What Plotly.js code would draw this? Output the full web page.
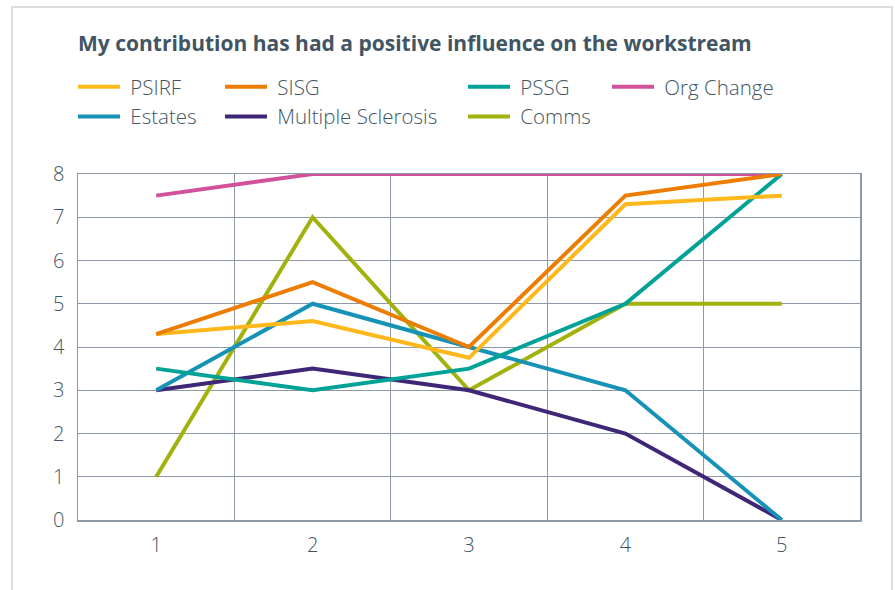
<!DOCTYPE html>
<html>
<head>
<meta charset="utf-8">
<script src="https://cdn.plot.ly/plotly-3.0.1.min.js"></script>
<style>html,body{margin:0;padding:0;background:#fff;}#chart{width:895px;height:590px;}</style>
</head>
<body>
<div id="chart"></div>
<script>
var categories = ['1', '2', '3', '4', '5'];
var psirf = [4.3, 4.6, 3.75, 7.3, 7.5];
var sisg = [4.3, 5.5, 4.0, 7.5, 8];
var pssg = [3.5, 3.0, 3.5, 5, 8];
var orgChange = [7.5, 8, 8, 8, 8];
var estates = [3, 5, 4, 3, 0];
var multipleSclerosis = [3, 3.5, 3, 2, 0];
var comms = [1, 7, 3, 5, 5];
var yTicks = [0, 1, 2, 3, 4, 5, 6, 7, 8];

var txt = '#425563';
var grid = '#8d9aa6';
var lw = 4;

function tr(name, y, color, legend) {
  return {type: 'scatter', mode: 'lines', name: '&nbsp;' + name, x: categories, y: y,
    line: {color: color, width: lw}, legend: legend};
}

var data = [
  tr('Org Change', orgChange, '#d1519a', 'legend4'),
  tr('Comms', comms, '#a2b20c', 'legend3'),
  tr('Multiple Sclerosis', multipleSclerosis, '#3f2677', 'legend2'),
  tr('Estates', estates, '#1592b6', 'legend'),
  tr('PSSG', pssg, '#00a197', 'legend3'),
  tr('PSIRF', psirf, '#ffb81c', 'legend'),
  tr('SISG', sisg, '#ed7d00', 'legend2')
];

function leg(px) {
  return {xref: 'container', yref: 'container', x: px / 895, y: 1 - 67 / 590,
    xanchor: 'left', yanchor: 'top', orientation: 'v', traceorder: 'reversed',
    font: {family: 'Open Sans', size: 20.5, color: txt, weight: 300},
    bgcolor: 'rgba(0,0,0,0)', itemwidth: 42, tracegroupgap: 0};
}

var layout = {
  width: 895, height: 590,
  margin: {l: 78, r: 35, t: 174, b: 70, autoexpand: false},
  paper_bgcolor: '#fff', plot_bgcolor: '#fff',
  font: {family: 'Open Sans', color: txt},
  title: {text: '<b>My contribution has had a positive influence on the workstream</b>',
    font: {family: 'Open Sans', size: 21, color: txt},
    xref: 'container', yref: 'container', x: 78 / 895, xanchor: 'left',
    y: 1 - 44 / 590, yanchor: 'middle'},
  xaxis: {type: 'category', range: [-0.5, 4.5], tickson: 'boundaries', showgrid: true,
    gridcolor: grid, gridwidth: 1, ticks: '', showline: true, linecolor: grid, linewidth: 1.5,
    mirror: true, ticklabelstandoff: 6,
    tickfont: {family: 'Open Sans', size: 20, color: txt, weight: 300}, zeroline: false},
  yaxis: {range: [0, 8], tickvals: yTicks, showgrid: true, gridcolor: grid, gridwidth: 1,
    ticks: '', showline: true, linecolor: grid, linewidth: 1.5, mirror: true, zeroline: false,
    tickfont: {family: 'Open Sans', size: 20, color: txt, weight: 300}, ticklabelstandoff: 8},
  legend: leg(73),
  legend2: leg(220),
  legend3: leg(463),
  legend4: leg(607),
  shapes: [{type: 'rect', xref: 'paper', yref: 'paper',
    x0: (12 - 78) / 782, x1: (892 - 78) / 782, y0: (520 - 600) / 346, y1: (520 - 7) / 346,
    line: {color: '#dcdcdc', width: 2}, layer: 'below'}],
  showlegend: true
};

Plotly.newPlot('chart', data, layout, {displayModeBar: false, staticPlot: true});
</script>
</body>
</html>
